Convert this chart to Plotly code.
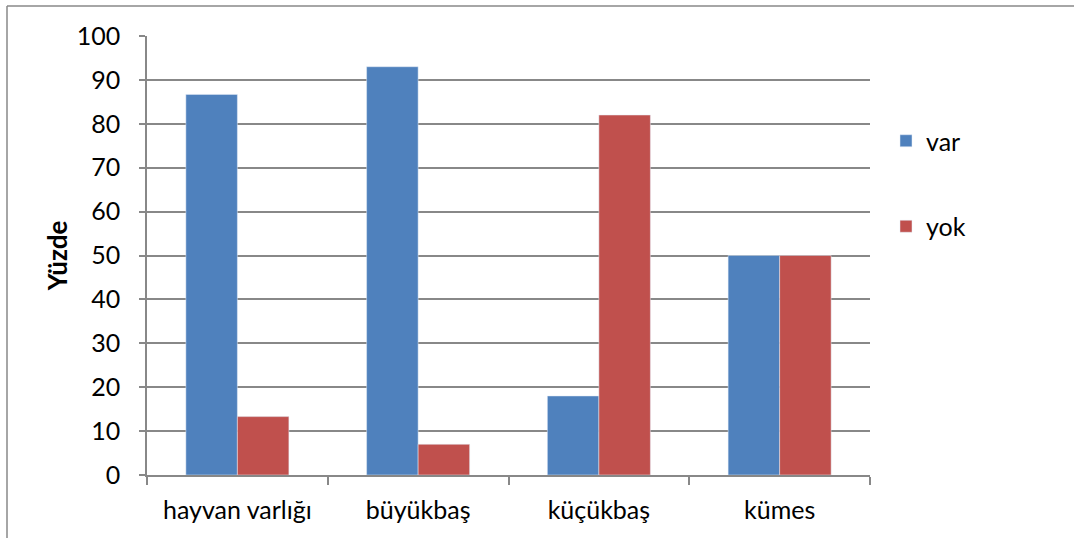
import plotly.graph_objects as go

categories = ["hayvan varlığı", "büyükbaş", "küçükbaş", "kümes"]
var_values = [86.7, 93, 18, 50]
yok_values = [13.3, 7, 82, 50]
y_ticks = list(range(0, 101, 10))

GRAY = "#888888"
FONT = "Lato"
FS = 25

fig = go.Figure()
fig.add_trace(go.Bar(x=categories, y=var_values, name="var",
                     marker=dict(color="#4F81BD"), legendgroup="a"))
fig.add_trace(go.Bar(x=categories, y=yok_values, name="yok",
                     marker=dict(color="#C0504D"), legendgroup="b"))

W, H = 1075, 538
L, R, T, B = 147, 870, 36, 475
pw, ph = R - L, B - T

def px_x(v):
    return (v - L) / pw

def px_y(v):
    return (B - v) / ph

# outer frame: top and left edges
fig.add_shape(type="line", xref="paper", yref="paper",
              x0=px_x(7), x1=px_x(1074), y0=px_y(6), y1=px_y(6),
              line=dict(color=GRAY, width=1.5))
fig.add_shape(type="line", xref="paper", yref="paper",
              x0=px_x(7), x1=px_x(7), y0=px_y(6), y1=px_y(540),
              line=dict(color=GRAY, width=1.5))

fig.update_layout(
    width=W, height=H,
    margin=dict(l=L, r=W - R, t=T, b=H - B),
    paper_bgcolor="white", plot_bgcolor="white",
    barmode="group", bargap=0.43, bargroupgap=0,
    font=dict(family=FONT, size=FS, color="#000000"),
    showlegend=True,
    legend=dict(x=px_x(886), y=px_y(118), xanchor="left", yanchor="top",
                traceorder="grouped", tracegroupgap=50,
                font=dict(size=FS), itemwidth=30,
                bgcolor="rgba(0,0,0,0)"),
    xaxis=dict(showline=True, linecolor=GRAY, linewidth=1.5,
               ticks="outside", ticklen=8, tickcolor=GRAY, tickwidth=1.5,
               tickson="boundaries", showgrid=False,
               ticklabelstandoff=12, tickfont=dict(size=FS)),
    yaxis=dict(range=[0, 100], tickvals=y_ticks, showline=True,
               linecolor=GRAY, linewidth=1.5,
               ticks="outside", ticklen=6, tickcolor=GRAY, tickwidth=1.5,
               showgrid=True, gridcolor=GRAY, gridwidth=1.5,
               zeroline=False, tickfont=dict(size=FS),
               ticklabelstandoff=14,
               title=dict(text="<b>Yüzde</b>", font=dict(size=26),
                          standoff=2)),
)

fig.write_html("out.html")
